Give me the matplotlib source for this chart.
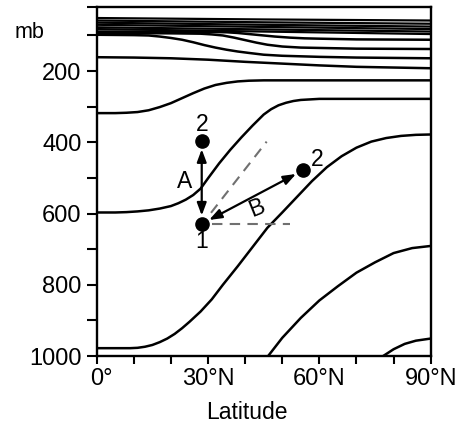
import numpy as np
import matplotlib
matplotlib.use("Agg")
import matplotlib.pyplot as plt
import matplotlib.transforms as mtransforms

plt.rcParams['font.family'] = ['Liberation Sans', 'DejaVu Sans']

# isentropes: latitude (deg N) and pressure (mb)
lat_bundle = [0, 45, 90]
p_bundle = [
    [51, 55, 58],
    [58, 63, 67],
    [64, 70, 75],
    [70, 76, 82],
    [77, 83, 89],
    [82, 89, 96],
]

lat_d3 = [0, 30, 35, 38, 41, 45, 48, 52, 56, 60, 70, 90]
p_d3 = [89, 90, 91, 93, 96, 100, 103, 106, 108, 109, 111, 112]

lat_d2 = [0, 20, 28, 31, 34, 37, 40, 43, 46, 50, 55, 60, 70, 90]
p_d2 = [93, 94, 95, 97, 100, 106, 113, 120, 126, 131, 134, 135, 137, 138]

lat_d1 = [0, 10, 14, 17, 20, 23, 26, 29, 32, 35, 38, 41, 45, 50, 60, 70, 90]
p_d1 = [98, 99, 100, 103, 107, 112, 119, 127, 134, 140, 145, 149, 154, 157, 160, 162, 164]

lat_200 = [0, 10, 20, 30, 40, 50, 60, 70, 80, 90]
p_200 = [161, 162, 164, 168, 174, 179, 184, 188, 190, 192]

lat_300 = [0, 5, 8, 11, 14, 17, 20, 23, 26, 29, 32, 35, 38, 41, 45, 50, 60, 70, 80, 90]
p_300 = [318, 318, 317, 315, 310, 301, 290, 276, 262, 249, 239, 233, 229, 227, 226, 226, 226, 226, 226, 226]

lat_600 = [0, 5, 8, 11, 14, 17, 20, 22, 24, 26, 28, 30, 33, 36, 39, 42, 45, 47, 49, 51, 53, 55, 60, 70, 90]
p_600 = [597, 597, 596, 594, 591, 586, 579, 571, 561, 548, 530, 501, 459, 421, 386, 353, 322, 307, 296, 289, 284, 281, 278, 278, 278]

lat_900 = [0, 5, 9, 11, 13, 15, 17, 19, 21, 23, 25, 28, 31, 34, 38, 42, 46, 50, 54, 58,
           62, 66, 70, 74, 78, 82, 86, 90]
p_900 = [978, 978, 978, 977, 974, 969, 961, 951, 938, 922, 904, 875, 841, 800, 748, 694,
         640, 597, 553, 509, 470, 439, 415, 398, 388, 382, 379, 378]

lat_low1 = [46.2, 50, 55, 60, 65, 70, 75, 80, 85, 90]
p_low1 = [1000, 949, 893, 844, 804, 766, 737, 711, 697, 691]

lat_low2 = [77.2, 80, 83, 86, 90]
p_low2 = [1000, 981, 966, 957, 951]

# parcel positions for the A / B displacements
pt1 = (28.3, 629)
pt2a = (28.3, 396)
pt2b = (55.7, 478)

fig = plt.figure(figsize=(4.59, 4.26), dpi=100)
ax = fig.add_axes([0.2107, 0.1643, 0.7276, 0.8193])

lw = 1.8
for p in p_bundle:
    ax.plot(lat_bundle, p, color='black', lw=1.6)
for lats, ps in [(lat_d3, p_d3), (lat_d2, p_d2), (lat_d1, p_d1), (lat_200, p_200),
                 (lat_300, p_300), (lat_600, p_600), (lat_900, p_900),
                 (lat_low1, p_low1), (lat_low2, p_low2)]:
    ax.plot(lats, ps, color='black', lw=lw, solid_joinstyle='round')

# dashed guides
ax.plot([31, 52], [pt1[1], pt1[1]], color='#707070', lw=1.5, ls=(0, (5, 3.5)))
ax.plot([30.8, 45.8], [598, 398], color='#707070', lw=1.5, ls=(0, (5, 3.5)))

# displacement arrows
astyle = dict(arrowstyle='<|-|>,head_length=0.75,head_width=0.28', color='black',
              lw=1.6, shrinkA=6, shrinkB=6, mutation_scale=10)
ax.annotate('', xy=pt2a, xytext=pt1, arrowprops=astyle)
ax.annotate('', xy=pt2b, xytext=pt1, arrowprops=astyle)

for pt in (pt1, pt2a, pt2b):
    ax.plot(*pt, 'o', color='black', ms=9.5, zorder=5)

fs = 16.5
ax.text(28.3, 679, '1', fontsize=fs, ha='center', va='center')
ax.text(28.3, 351, '2', fontsize=fs, ha='center', va='center')
ax.text(59.3, 447, '2', fontsize=fs, ha='center', va='center')
ax.text(23.8, 510, 'A', fontsize=fs, ha='center', va='center')
ax.text(43.1, 584, 'B', fontsize=fs, ha='center', va='center', rotation=22)

ax.set_xlim(0, 90)
ax.set_ylim(1000, 20)

ax.set_xticks(range(0, 91, 10))
ax.set_xticklabels(['0°', '', '', '30°N', '', '', '60°N', '', '', '90°N'])
ax.set_yticks([20, 100, 200, 300, 400, 500, 600, 700, 800, 900, 1000])
ax.set_yticklabels(['', '', '200', '', '400', '', '600', '', '800', '', '1000'])
ax.tick_params(axis='both', direction='out', width=1.5, labelsize=17)
ax.tick_params(axis='y', length=7.2, pad=3.8)
ax.tick_params(axis='x', length=5.8, pad=3)

shift = mtransforms.ScaledTranslation(5 / 100, 0, fig.dpi_scale_trans)
first = ax.get_xticklabels()[0]
first.set_transform(first.get_transform() + shift)

for s in ax.spines.values():
    s.set_linewidth(1.7)

ax.text(-0.2, 93, 'mb', fontsize=15.5, ha='center', va='center',
        transform=mtransforms.blended_transform_factory(ax.transAxes, ax.transData))
ax.text(0.451, -0.163, 'Latitude', fontsize=16.5, ha='center', va='center',
        transform=ax.transAxes)

fig.savefig('out.png', dpi=100)
